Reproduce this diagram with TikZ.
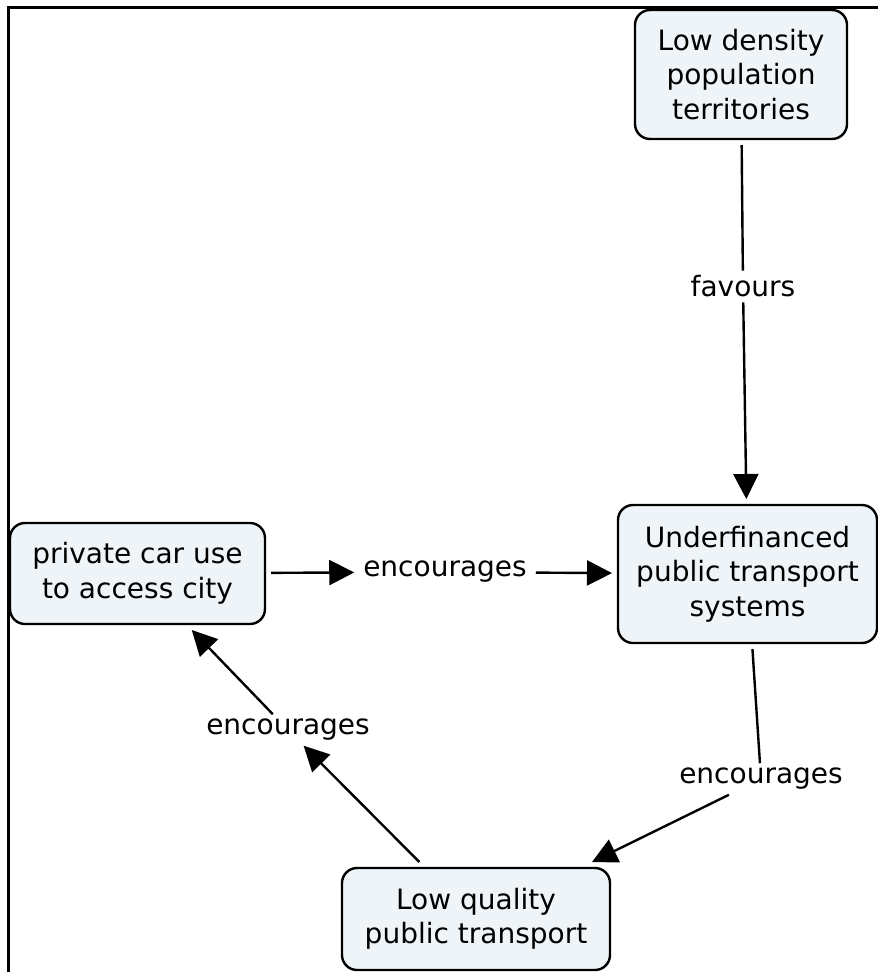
\documentclass[tikz,border=0pt]{standalone}
\usepackage{fontspec}
\setmainfont{DejaVu Sans}
\usetikzlibrary{arrows.meta}
\definecolor{boxfill}{RGB}{238,244,247}
\begin{document}
\begin{tikzpicture}[x=1pt,y=-1pt,
  concept/.style={draw=black, line width=2.4pt, fill=boxfill, rounded corners=15pt,
    align=center, font=\fontsize{28}{34.5}\selectfont, inner sep=0pt, outer sep=6pt},
  linklabel/.style={font=\fontsize{28}{34}\selectfont, inner xsep=9pt, inner ysep=5pt, outer sep=0pt},
  conn/.style={line width=2.4pt, draw=black},
  arr/.style={conn, -{Triangle[length=25pt,width=25pt]}}]
\useasboundingbox (0,0) rectangle (878,972);
\fill[white] (0,0) rectangle (878,972);
\draw[line width=3pt] (8,972) -- (8,7) -- (878,7);

\node[concept, minimum width=212pt, minimum height=129pt] (low) at (741,74.5)
  {Low density\\population\\territories};
\node[concept, minimum width=259pt, minimum height=138pt] (under) at (747.5,574)
  {Underfinanced\\public transport\\systems};
\node[concept, minimum width=255pt, minimum height=101pt] (car) at (137.5,573.5)
  {private car use\\to access city};
\node[concept, minimum width=268pt, minimum height=102pt] (lowq) at (476,919)
  {Low quality\\public transport};

\node[linklabel] (fav) at (743,286.5) {favours};
\node[linklabel] (enc1) at (445,572) {encourages};
\node[linklabel] (enc2) at (288,730) {encourages};
\node[linklabel] (enc3) at (761,779) {encourages};

\draw[conn] (low) -- (fav);
\draw[arr] (fav) -- (under);
\draw[arr] (car) -- (enc1);
\draw[arr] (enc1) -- (under);
\draw[conn] (under) -- (enc3);
\draw[arr] (enc3) -- (lowq);
\draw[arr] (lowq) -- (enc2);
\draw[arr] (enc2) -- (car);
\end{tikzpicture}
\end{document}
